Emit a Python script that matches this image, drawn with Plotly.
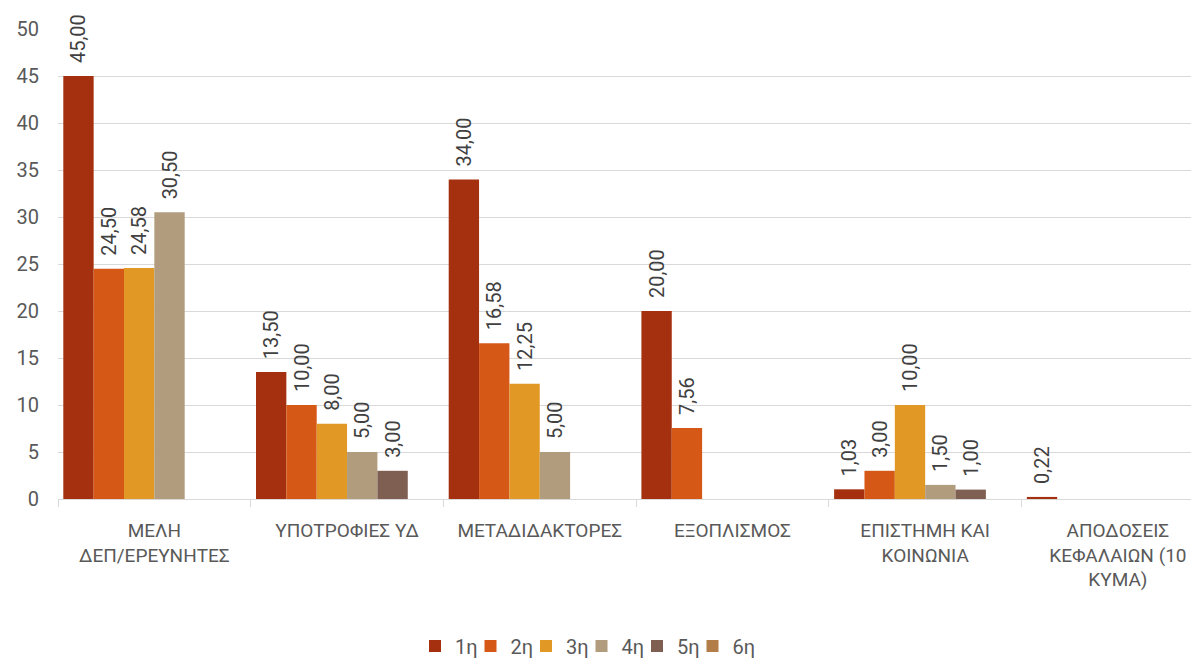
import plotly.graph_objects as go

categories = [
    "ΜΕΛΗ<br>ΔΕΠ/ΕΡΕΥΝΗΤΕΣ",
    "ΥΠΟΤΡΟΦΙΕΣ ΥΔ",
    "ΜΕΤΑΔΙΔΑΚΤΟΡΕΣ",
    "ΕΞΟΠΛΙΣΜΟΣ",
    "ΕΠΙΣΤΗΜΗ ΚΑΙ<br>ΚΟΙΝΩΝΙΑ",
    "ΑΠΟΔΟΣΕΙΣ<br>ΚΕΦΑΛΑΙΩΝ (10<br>ΚΥΜΑ)",
]
series_names = ["1η", "2η", "3η", "4η", "5η", "6η"]
s1 = [45.00, 13.50, 34.00, 20.00, 1.03, 0.22]
s2 = [24.50, 10.00, 16.58, 7.56, 3.00, None]
s3 = [24.58, 8.00, 12.25, None, 10.00, None]
s4 = [30.50, 5.00, 5.00, None, 1.50, None]
s5 = [None, 3.00, None, None, 1.00, None]
s6 = [None, None, None, None, None, None]
series_values = [s1, s2, s3, s4, s5, s6]
colors = ["#A5300F", "#D55816", "#E19825", "#B19C7D", "#7F5F52", "#B27D49"]
y_ticks = [0, 5, 10, 15, 20, 25, 30, 35, 40, 45, 50]

FONT = "Roboto, Open Sans, DejaVu Sans, sans-serif"

legend_ids = ["legend"] + [f"legend{i}" for i in range(2, len(series_names) + 1)]

fig = go.Figure()
for name, vals, col, lg in zip(series_names, series_values, colors, legend_ids):
    fig.add_trace(go.Bar(
        name=name,
        x=categories,
        y=vals,
        legend=lg,
        marker=dict(color=col, line=dict(width=0)),
        texttemplate="\u00a0\u00a0%{y:.2f}",
        textposition="outside",
        textangle=-90,
        constraintext="none",
        cliponaxis=False,
        textfont=dict(family=FONT, size=20, color="#404040"),
    ))

legend_common = dict(
    orientation="h",
    xanchor="left",
    y=-0.313,
    yanchor="middle",
    itemwidth=30,
    font=dict(family=FONT, size=20, color="#595959"),
    bgcolor="rgba(0,0,0,0)",
)
legend_layout = {}
for i, lg in enumerate(legend_ids):
    legend_layout[lg] = dict(x=(415 + 55.5 * i - 58) / 1141, **legend_common)

# page body has an 8px default margin, so the figure is 8px smaller
fig.update_layout(
    width=1191,
    height=652,
    barmode="group",
    bargap=0.055,
    bargroupgap=0,
    separators=",.",
    plot_bgcolor="white",
    paper_bgcolor="white",
    margin=dict(l=50, r=0, t=21, b=161, autoexpand=False),
    font=dict(family=FONT, size=20, color="#595959"),
    showlegend=True,
    **legend_layout,
)
fig.update_xaxes(
    range=[-0.5, 5.421],
    automargin=False,
    showgrid=False,
    showline=True,
    linecolor="#D9D9D9",
    linewidth=1,
    ticks="outside",
    tickson="boundaries",
    ticklen=7,
    tickcolor="#D9D9D9",
    ticklabelstandoff=14,
    tickfont=dict(family=FONT, size=19, color="#595959"),
)
fig.update_yaxes(
    range=[0, 50],
    automargin=False,
    tickvals=y_ticks,
    showgrid=True,
    gridcolor="#D9D9D9",
    gridwidth=1,
    zeroline=False,
    showline=False,
    ticks="",
    ticklabelstandoff=18,
    tickfont=dict(family=FONT, size=20, color="#595959"),
)

fig.write_html("out.html")
